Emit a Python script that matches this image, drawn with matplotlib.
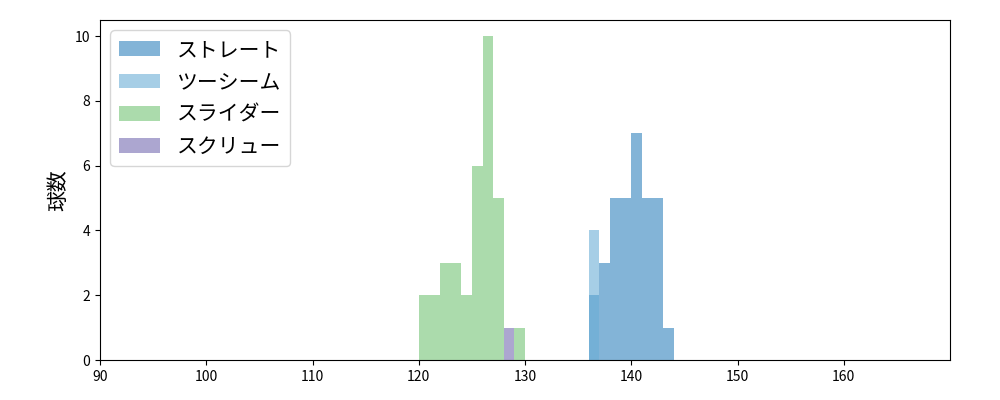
import matplotlib
matplotlib.use("Agg")
import matplotlib.pyplot as plt
import numpy as np

plt.rcParams['font.family'] = ['Noto Sans CJK JP', 'DejaVu Sans']

names = ["ストレート", "ツーシーム", "スライダー", "スクリュー"]
colors = ["#3182bd", "#6baed6", "#74c476", "#756bb1"]
bin_left = [
    [136, 137, 138, 139, 140, 141, 142, 143],
    [136],
    [120, 121, 122, 123, 124, 125, 126, 127, 129],
    [128],
]
counts = [
    [2, 3, 5, 5, 7, 5, 5, 1],
    [4],
    [2, 2, 3, 3, 2, 6, 10, 5, 1],
    [1],
]

fig, ax = plt.subplots(figsize=(10, 4), dpi=100)
fig.subplots_adjust(left=0.1, right=0.95, top=0.95, bottom=0.1)
for n, c, b, v in zip(names, colors, bin_left, counts):
    ax.bar(b, v, width=1, align='edge', color=c, alpha=0.6, label=n)
ax.set_xlim(90, 170)
ax.set_xticks(range(90, 170, 10))
ax.set_yticks(range(0, 11, 2))
ax.set_ylabel("球数", fontsize=15)
ax.legend(loc='upper left', fontsize=15)
fig.savefig("out.png")
